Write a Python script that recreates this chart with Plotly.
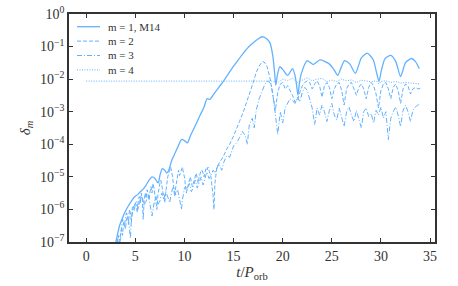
import plotly.graph_objects as go

# ---------------- data ----------------
t_m1 = [2.8, 3.1, 3.4, 3.7, 4.0, 4.3, 4.6, 4.9, 5.2, 5.5, 5.8, 6.1, 6.4, 6.7, 7.0, 7.2, 7.35,
        7.5, 7.75, 8.0, 8.2, 8.4, 8.7, 9.0, 9.3, 9.7, 10.0, 10.3, 10.6, 11.0, 11.3, 11.6, 12.0,
        12.3, 12.6, 13.0, 13.5, 14.0, 14.5, 15.0, 15.5, 16.0, 16.5, 17.0, 17.5, 17.9, 18.3,
        18.7, 19.0, 19.15, 19.3, 19.45, 19.7, 20.0, 20.5, 21.0, 21.25, 21.4, 21.55, 21.7, 21.9,
        22.5, 23.1, 23.8, 24.7, 25.2, 25.6, 25.95, 26.3, 26.8, 27.4, 28.0, 28.6, 29.2, 29.55,
        29.8, 30.05, 30.4, 31.0, 31.5, 32.0, 32.5, 33.1, 33.5, 33.9]
m1 = [5.0e-8, 1.3e-7, 3.2e-7, 5.6e-7, 8.9e-7, 1.3e-6, 1.8e-6, 2.4e-6, 2.8e-6, 3.5e-6, 4.2e-6,
      5.6e-6, 7.9e-6, 1.0e-5, 8.9e-6, 7.1e-6, 6.6e-6, 1.1e-5, 1.8e-5, 1.6e-5, 1.3e-5, 1.6e-5,
      3.2e-5, 5.0e-5, 7.9e-5, 1.4e-4, 1.3e-4, 1.1e-4, 1.8e-4, 3.2e-4, 5.0e-4, 7.9e-4, 1.4e-3,
      2.5e-3, 2.4e-3, 3.5e-3, 5.6e-3, 8.9e-3, 1.5e-2, 2.5e-2, 4.0e-2, 6.3e-2, 9.5e-2, 0.13,
      0.17, 0.20, 0.18, 0.13, 5.0e-2, 1.9e-2, 6.5e-3, 1.3e-2, 2.4e-2, 2.0e-2, 1.3e-2, 2.1e-2,
      1.3e-2, 7.0e-3, 3.2e-3, 7.5e-3, 1.5e-2, 3.7e-2, 2.8e-2, 3.9e-2, 3.0e-2, 2.0e-2, 1.3e-2,
      2.3e-2, 3.7e-2, 3.0e-2, 1.5e-2, 4.5e-2, 6.3e-2, 4.0e-2, 1.6e-2, 8.5e-3, 1.9e-2, 4.2e-2,
      5.4e-2, 3.5e-2, 1.2e-2, 3.2e-2, 4.3e-2, 3.5e-2, 2.1e-2]

t_m2 = [3.0, 3.1, 3.2, 3.3, 3.4, 3.5, 3.6, 3.7, 3.8, 3.9, 4.0, 4.1, 4.2, 4.3, 4.4, 4.5, 4.6,
        4.7, 4.8, 4.9, 5.0, 5.1, 5.2, 5.3, 5.4, 5.5, 5.6, 5.7, 5.8, 5.9, 6.0, 6.1, 6.2, 6.3,
        6.4, 6.5, 6.6, 6.7, 6.8, 6.9, 7.0, 7.1, 7.2, 7.3, 7.4, 7.5, 7.6, 7.7, 7.8, 7.9, 8.0,
        8.1, 8.2, 8.3, 8.4, 8.5, 8.6, 8.7, 8.8, 8.9, 9.0, 9.1, 9.2, 9.3, 9.4, 9.5, 9.6, 9.7,
        9.8, 9.9, 10.0, 10.1, 10.2, 10.3, 10.4, 10.5, 10.6, 10.7, 10.8, 10.9, 11.0, 11.1, 11.2,
        11.3, 11.4, 11.5, 11.6, 11.7, 11.8, 11.9, 12.0, 12.1, 12.2, 12.3, 12.4, 12.5, 12.6,
        12.7, 12.8, 12.9, 13.0, 13.1, 13.3, 13.6, 14.0, 14.3, 14.6, 15.0, 15.3, 15.6, 16.0,
        16.3, 16.6, 17.0, 17.3, 17.6, 17.9, 18.1, 18.4, 18.7, 19.0, 19.25, 19.5, 19.75, 20.0,
        20.25, 20.5, 20.75, 21.0, 21.25, 21.5, 21.75, 22.0, 22.25, 22.5, 22.75, 23.0, 23.25,
        23.5, 23.75, 24.0, 24.25, 24.5, 24.75, 25.0, 25.25, 25.5, 25.75, 26.0, 26.25, 26.5,
        26.75, 27.0, 27.25, 27.5, 27.75, 28.0, 28.25, 28.5, 28.75, 29.0, 29.25, 29.5, 29.75,
        30.0, 30.25, 30.5, 30.75, 31.0, 31.25, 31.5, 31.75, 32.0, 32.25, 32.5, 32.75, 33.0,
        33.25, 33.5, 33.75, 34.0]
m2 = [4.0e-8, 1.0e-7, 1.3e-7, 7.0e-8, 8.0e-8, 1.8e-7, 2.5e-7, 1.6e-7, 4.0e-7, 3.2e-7, 2.5e-7,
      5.0e-7, 6.3e-7, 3.5e-7, 1.0e-6, 8.0e-7, 4.0e-7, 1.1e-6, 1.3e-6, 9.0e-7, 1.6e-6, 1.3e-6,
      8.0e-7, 1.8e-6, 2.5e-6, 1.6e-6, 3.2e-6, 2.2e-6, 5.0e-7, 1.8e-6, 3.2e-6, 2.2e-6, 4.0e-6,
      3.0e-6, 2.0e-6, 3.5e-6, 5.0e-6, 3.2e-6, 6.3e-6, 4.5e-6, 2.5e-6, 1.6e-6, 1.0e-6, 2.8e-6,
      5.0e-6, 6.3e-6, 7.9e-6, 5.0e-6, 3.2e-6, 2.2e-6, 1.6e-6, 3.5e-6, 6.3e-6, 1.0e-5, 1.3e-5,
      1.8e-5, 2.0e-5, 1.4e-5, 1.0e-5, 5.0e-6, 2.5e-6, 4.5e-6, 7.9e-6, 1.2e-5, 1.6e-5, 1.1e-5,
      1.4e-5, 1.8e-5, 2.0e-5, 1.3e-5, 1.0e-5, 5.6e-6, 3.2e-6, 4.5e-6, 6.3e-6, 8.9e-6, 1.0e-5,
      7.1e-6, 5.0e-6, 6.3e-6, 7.9e-6, 1.1e-5, 1.3e-5, 9.0e-6, 6.3e-6, 1.0e-5, 1.3e-5, 1.6e-5,
      1.6e-5, 1.1e-5, 1.0e-5, 1.4e-5, 1.8e-5, 1.6e-5, 2.0e-5, 1.6e-5, 1.3e-5, 1.0e-5, 5.0e-6,
      3.0e-6, 1.0e-6, 6.3e-6, 2.0e-5, 2.8e-5, 4.5e-5, 7.1e-5, 1.0e-4, 1.8e-4, 3.2e-4, 5.0e-4,
      1.0e-3, 1.8e-3, 3.5e-3, 7.9e-3, 1.6e-2, 2.5e-2, 3.4e-2, 3.4e-2, 2.5e-2, 1.1e-2, 3.2e-3,
      1.1e-3, 4.0e-3, 7.1e-3, 7.9e-3, 5.0e-3, 6.3e-3, 4.5e-3, 3.2e-3, 2.0e-3, 2.2e-3, 4.0e-3,
      6.3e-3, 7.9e-3, 8.9e-3, 7.9e-3, 5.0e-3, 7.1e-3, 8.9e-3, 6.3e-3, 2.8e-3, 6.3e-3, 7.9e-3,
      5.6e-3, 2.5e-3, 5.0e-3, 7.1e-3, 7.9e-3, 4.5e-3, 1.6e-3, 5.0e-3, 7.1e-3, 7.9e-3, 5.0e-3,
      3.2e-3, 5.6e-3, 7.1e-3, 5.0e-3, 2.5e-3, 5.6e-3, 7.9e-3, 6.3e-3, 3.5e-3, 1.3e-3, 4.5e-3,
      7.1e-3, 7.9e-3, 5.0e-3, 2.5e-3, 5.6e-3, 7.1e-3, 4.5e-3, 1.8e-3, 5.0e-3, 7.1e-3, 6.3e-3,
      3.5e-3, 5.0e-3, 5.6e-3, 5.0e-3, 5.2e-3]

t_m3 = [3.1, 3.2, 3.3, 3.4, 3.5, 3.6, 3.7, 3.8, 3.9, 4.0, 4.1, 4.2, 4.3, 4.4, 4.5, 4.6, 4.7,
        4.8, 4.9, 5.0, 5.1, 5.2, 5.3, 5.4, 5.5, 5.6, 5.7, 5.8, 5.9, 6.0, 6.1, 6.2, 6.3, 6.4,
        6.5, 6.6, 6.7, 6.8, 6.9, 7.0, 7.1, 7.2, 7.3, 7.4, 7.5, 7.6, 7.7, 7.8, 7.9, 8.0, 8.1,
        8.2, 8.3, 8.4, 8.5, 8.6, 8.7, 8.8, 8.9, 9.0, 9.1, 9.2, 9.3, 9.4, 9.5, 9.6, 9.7, 9.8,
        9.9, 10.0, 10.1, 10.2, 10.3, 10.4, 10.5, 10.6, 10.7, 10.8, 10.9, 11.0, 11.1, 11.2, 11.3,
        11.4, 11.5, 11.6, 11.7, 11.8, 11.9, 12.0, 12.1, 12.2, 12.3, 12.4, 12.5, 12.6, 12.7,
        12.8, 12.9, 13.0, 13.1, 13.3, 13.5, 13.8, 14.0, 14.3, 14.6, 15.0, 15.3, 15.6, 15.9,
        16.2, 16.4, 16.6, 16.9, 17.1, 17.3, 17.6, 17.9, 18.2, 18.5, 18.8, 19.0, 19.25, 19.5,
        19.75, 20.0, 20.25, 20.5, 20.75, 21.0, 21.25, 21.5, 21.75, 22.0, 22.25, 22.5, 22.75,
        23.0, 23.25, 23.5, 23.75, 24.0, 24.25, 24.5, 24.75, 25.0, 25.25, 25.5, 25.75, 26.0,
        26.25, 26.5, 26.75, 27.0, 27.25, 27.5, 27.75, 28.0, 28.25, 28.5, 28.75, 29.0, 29.25,
        29.5, 29.75, 30.0, 30.25, 30.5, 30.75, 31.0, 31.25, 31.5, 31.75, 32.0, 32.25, 32.5,
        32.75, 33.0, 33.25, 33.5, 33.75, 34.0]
m3 = [6.3e-8, 1.1e-7, 1.6e-7, 1.0e-7, 1.3e-7, 3.0e-7, 5.0e-7, 4.0e-7, 3.2e-7, 5.6e-7, 7.9e-7,
      6.3e-7, 5.0e-7, 2.5e-7, 1.3e-7, 5.0e-7, 1.0e-6, 1.2e-6, 1.3e-6, 1.6e-6, 1.8e-6, 1.4e-6,
      1.0e-6, 1.5e-6, 2.0e-6, 2.2e-6, 2.5e-6, 1.8e-6, 1.3e-6, 1.6e-6, 1.8e-6, 2.4e-6, 2.8e-6,
      2.0e-6, 1.3e-6, 9.0e-7, 6.3e-7, 1.0e-6, 1.6e-6, 2.2e-6, 2.5e-6, 1.8e-6, 1.4e-6, 1.6e-6,
      1.8e-6, 2.5e-6, 3.2e-6, 2.5e-6, 2.0e-6, 2.8e-6, 3.5e-6, 3.0e-6, 2.5e-6, 2.0e-6, 1.6e-6,
      2.5e-6, 4.0e-6, 4.5e-6, 5.0e-6, 4.0e-6, 2.8e-6, 3.5e-6, 4.0e-6, 3.0e-6, 2.0e-6, 1.4e-6,
      1.0e-6, 2.0e-6, 3.5e-6, 4.5e-6, 5.0e-6, 4.5e-6, 4.0e-6, 5.0e-6, 6.3e-6, 5.0e-6, 3.5e-6,
      4.0e-6, 5.0e-6, 6.3e-6, 7.9e-6, 6.0e-6, 4.5e-6, 5.5e-6, 6.3e-6, 8.0e-6, 1.0e-5, 8.0e-6,
      5.6e-6, 7.0e-6, 1.0e-5, 1.2e-5, 1.4e-5, 1.1e-5, 8.9e-6, 1.0e-5, 1.1e-5, 1.3e-5, 1.6e-5,
      1.5e-5, 1.3e-5, 1.8e-5, 2.5e-5, 1.6e-5, 2.8e-5, 4.5e-5, 4.0e-5, 8.9e-5, 1.1e-4, 1.6e-4,
      2.5e-4, 1.8e-4, 1.0e-4, 4.0e-4, 6.3e-4, 3.2e-4, 1.1e-3, 2.5e-3, 4.5e-3, 7.1e-3, 8.9e-3,
      7.1e-3, 3.5e-3, 1.0e-3, 2.0e-4, 1.0e-3, 4.5e-4, 1.3e-3, 1.8e-3, 2.5e-3, 2.2e-3, 1.8e-3,
      2.8e-3, 2.0e-3, 4.0e-3, 5.6e-3, 4.5e-3, 2.5e-3, 1.3e-3, 4.0e-4, 1.3e-3, 7.9e-4, 1.6e-3,
      1.0e-3, 5.0e-4, 1.1e-3, 1.8e-3, 7.9e-4, 5.6e-4, 1.3e-3, 7.1e-4, 3.5e-4, 1.0e-3, 1.4e-3,
      7.9e-4, 5.0e-4, 1.1e-3, 6.3e-4, 3.2e-4, 1.0e-3, 1.3e-3, 7.1e-4, 8.9e-4, 4.5e-4, 1.1e-3,
      7.9e-4, 1.4e-3, 6.3e-4, 1.0e-3, 1.4e-4, 6.3e-4, 1.0e-3, 1.4e-3, 7.9e-4, 3.5e-4, 1.1e-3,
      1.6e-3, 1.0e-3, 5.0e-4, 1.1e-3, 1.4e-3, 1.6e-3, 1.7e-3]

t_m4 = [0.0, 5.0, 10.0, 15.0, 19.0, 19.5, 20.0, 20.5, 21.0, 21.5, 22.0, 22.5, 23.0, 23.5,
        24.0, 24.5, 25.0, 25.5, 26.0, 26.5, 27.0, 27.5, 28.0, 28.5, 29.0, 29.5, 29.8, 30.0,
        30.5, 31.0, 31.5, 32.0, 32.5, 33.0, 33.5, 34.0]
m4 = [8.7e-3, 8.7e-3, 8.7e-3, 8.7e-3, 8.7e-3, 7.9e-3, 1.0e-2, 8.9e-3, 1.07e-2, 7.9e-3, 9.5e-3,
      1.1e-2, 8.9e-3, 1.0e-2, 1.05e-2, 8.3e-3, 9.3e-3, 8.5e-3, 1.0e-2, 8.9e-3, 9.5e-3, 7.9e-3,
      9.3e-3, 8.9e-3, 8.3e-3, 8.9e-3, 7.1e-3, 8.5e-3, 8.9e-3, 7.9e-3, 8.5e-3, 7.6e-3, 7.9e-3,
      7.6e-3, 7.4e-3, 7.1e-3]

labels = ["m = 1, M14", "m = 2", "m = 3", "m = 4"]
x_ticks = [0, 5, 10, 15, 20, 25, 30, 35]
y_tick_vals = [1e-7, 1e-6, 1e-5, 1e-4, 1e-3, 1e-2, 1e-1, 1e0]
y_tick_text = ["10<sup>\u22127</sup>", "10<sup>\u22126</sup>", "10<sup>\u22125</sup>",
               "10<sup>\u22124</sup>", "10<sup>\u22123</sup>", "10<sup>\u22122</sup>",
               "10<sup>\u22121</sup>", "10<sup>0</sup>"]

# ---------------- styling ----------------
COL = "#62b2ff"
FONT = "Liberation Serif"
dashes = ["solid", "4px,2px", "5px,2px,1px,2px", "1px,1.5px"]
widths = [1.3, 1.0, 1.0, 1.0]
shapes_line = ["spline", "linear", "linear", "linear"]

W, H = 458, 286
ML, MR, MT, MB = 69, 23, 14, 44
PW, PH = W - ML - MR, H - MT - MB

fig = go.Figure()
series = [(t_m1, m1), (t_m2, m2), (t_m3, m3), (t_m4, m4)]
for (tx, vy), lab, d, w, sh in zip(series, labels, dashes, widths, shapes_line):
    fig.add_trace(go.Scatter(x=tx, y=vy, mode="lines", name=lab, showlegend=False,
                             line=dict(color=COL, width=w, dash=d, shape=sh,
                                       smoothing=0.6 if sh == "spline" else None)))

# manual legend (compact rows like the reference)
shapes, annots = [], []
for i, (lab, d, w) in enumerate(zip(labels, dashes, widths)):
    py = 26.7 + i * 14.4
    yp = (H - MB - py) / PH
    shapes.append(dict(type="line", xref="paper", yref="paper",
                       x0=(77 - ML) / PW, x1=(100 - ML) / PW, y0=yp, y1=yp,
                       line=dict(color=COL, width=w, dash=d)))
    annots.append(dict(xref="paper", yref="paper", x=(106 - ML) / PW, y=yp,
                       xanchor="left", yanchor="middle", text=lab, showarrow=False,
                       font=dict(family=FONT, size=11, color="#333")))

axis_common = dict(showline=True, linewidth=1.5, linecolor="#333", mirror="ticks",
                   ticks="inside", ticklen=4, tickwidth=1.2, tickcolor="#333",
                   showgrid=False, zeroline=False, automargin=False,
                   tickfont=dict(family=FONT, size=14, color="#333"))

fig.update_layout(
    width=W, height=H, autosize=False,
    margin=dict(l=ML, r=MR, t=MT, b=MB),
    paper_bgcolor="white", plot_bgcolor="white",
    shapes=shapes, annotations=annots,
    xaxis=dict(range=[-1.75, 35.5], tickvals=x_ticks,
               title=dict(text="<i>t</i>/<i>P</i><sub>orb</sub>",
                          font=dict(family=FONT, size=15, color="#333"), standoff=4),
               **axis_common),
    yaxis=dict(type="log", range=[-7, 0], tickvals=y_tick_vals, ticktext=y_tick_text,
               title=dict(text="<i>δ</i><sub><i>m</i></sub>",
                          font=dict(family=FONT, size=15, color="#333"), standoff=6),
               **axis_common),
)

fig.write_html("out.html", config={"displayModeBar": False},
               post_script="document.body.style.margin='0';document.body.style.padding='0';")
